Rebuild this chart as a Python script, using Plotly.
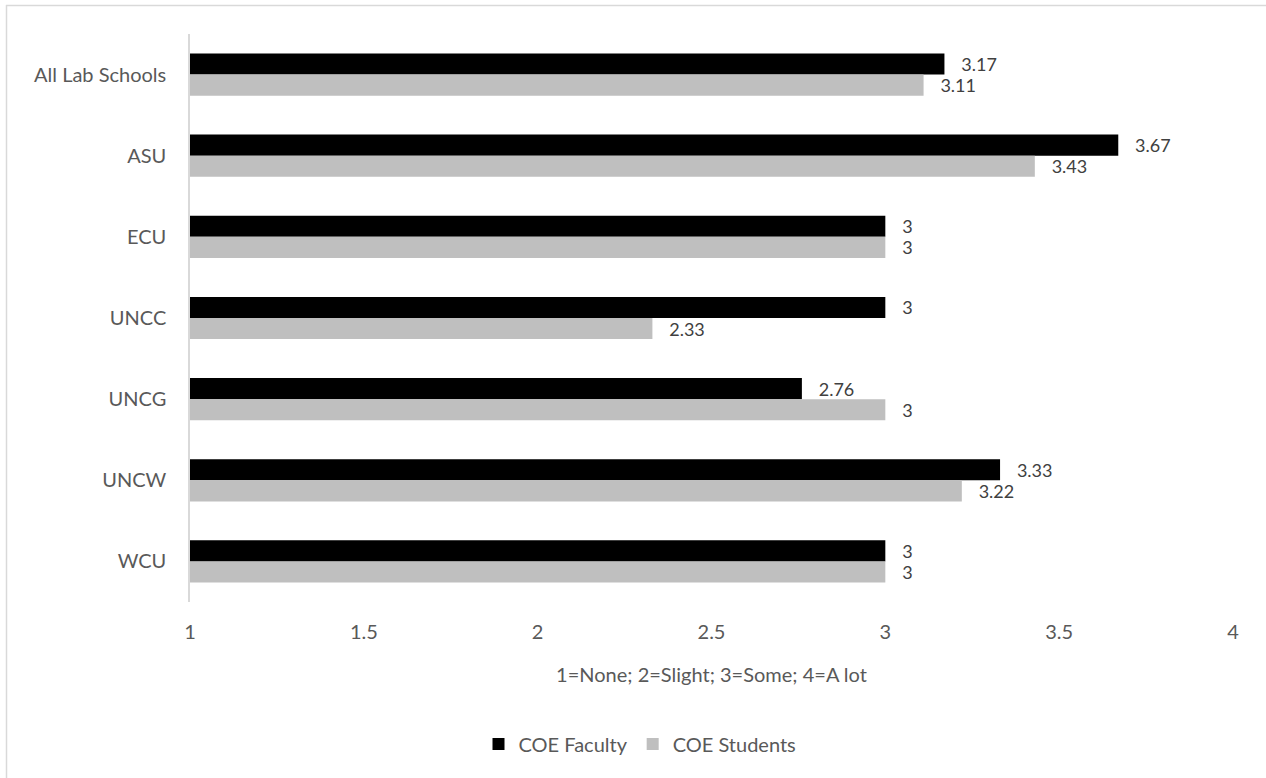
import plotly.graph_objects as go

categories = ["All Lab Schools", "ASU", "ECU", "UNCC", "UNCG", "UNCW", "WCU"]
faculty = [3.17, 3.67, 3, 3, 2.76, 3.33, 3]
students = [3.11, 3.43, 3, 2.33, 3, 3.22, 3]
tick_vals = [1, 1.5, 2, 2.5, 3, 3.5, 4]
tick_text = ["1", "1.5", "2", "2.5", "3", "3.5", "4"]
x_title = "1=None; 2=Slight; 3=Some; 4=A lot"

FONT = "Lato, Open Sans, sans-serif"
FS = 20
LFS = 18
W, H = 1266, 778
L, R, T, B = 190, 33, 34, 176
pw, ph = W - L - R, H - T - B

def px(x):
    return (x - L) / pw

def py(y):
    return (H - B - y) / ph

fig = go.Figure()
fig.add_trace(go.Bar(
    y=categories, x=[v - 1 for v in faculty], base=1, orientation="h",
    name="COE Faculty", marker=dict(color="#000000", line=dict(width=0)),
    text=[f"{v:g}" for v in faculty],
    texttemplate="\u00a0\u00a0\u00a0%{text}", textposition="outside", constraintext="none",
    textfont=dict(family=FONT, size=LFS, color="#404040"), cliponaxis=False,
))
fig.add_trace(go.Bar(
    y=categories, x=[v - 1 for v in students], base=1, orientation="h",
    name="COE Students", marker=dict(color="#bfbfbf", line=dict(width=0)),
    text=[f"{v:g}" for v in students],
    texttemplate="\u00a0\u00a0\u00a0%{text}", textposition="outside", constraintext="none",
    textfont=dict(family=FONT, size=LFS, color="#404040"), cliponaxis=False,
))

fig.update_layout(
    width=W, height=H,
    margin=dict(l=L, r=R, t=T, b=B, autoexpand=False),
    paper_bgcolor="white", plot_bgcolor="white",
    barmode="group", bargap=0.48, bargroupgap=0,
    font=dict(family=FONT, size=FS, color="#595959"),
    xaxis=dict(range=[1, 4], tickvals=tick_vals, ticktext=tick_text,
               showgrid=False, zeroline=False, showline=False, ticks="",
               ticklabelstandoff=16,
               tickfont=dict(size=FS, color="#595959"),
               title=dict(text=x_title, font=dict(size=FS, color="#595959"), standoff=25)),
    yaxis=dict(autorange="reversed", showgrid=False, zeroline=False,
               showline=True, linecolor="#d9d9d9", linewidth=1.5, ticks="",
               ticklabelstandoff=18,
               tickfont=dict(size=FS, color="#595959")),
    legend=dict(orientation="h", x=px(640), xanchor="center", y=py(744), yanchor="middle",
                font=dict(size=FS, color="#595959"), traceorder="normal",
                itemwidth=30),
    shapes=[
        dict(type="line", xref="paper", yref="paper", x0=px(6), x1=px(1266), y0=py(5.5), y1=py(5.5),
             line=dict(color="#d9d9d9", width=1.5)),
        dict(type="line", xref="paper", yref="paper", x0=px(6.5), x1=px(6.5), y0=py(5), y1=py(778),
             line=dict(color="#d9d9d9", width=1.5)),
    ],
)

fig.write_html("out.html")
